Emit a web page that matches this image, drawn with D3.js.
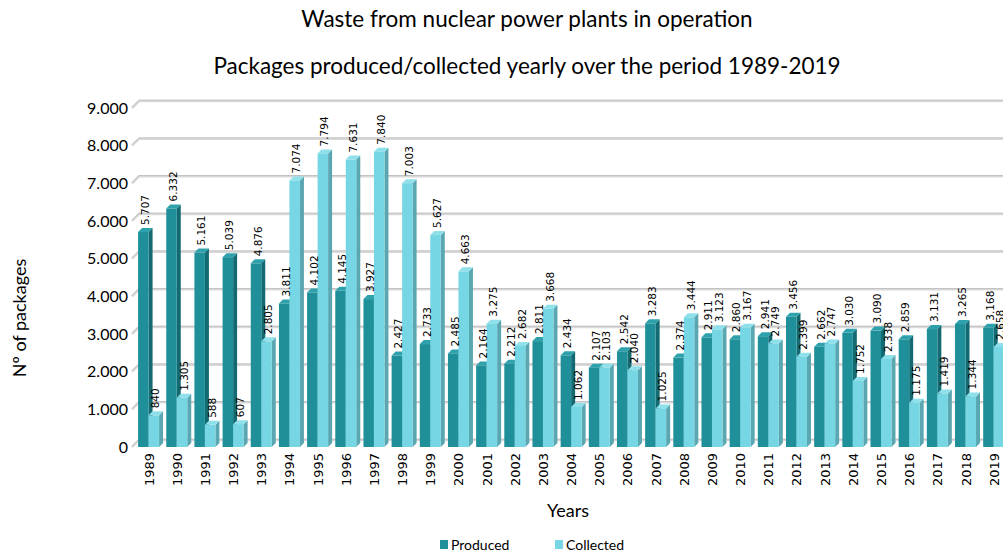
<!DOCTYPE html>
<html><head><meta charset="utf-8">
<script src="https://cdn.jsdelivr.net/npm/d3@7"></script>
<style>
html,body{margin:0;padding:0;background:#fff;overflow:hidden}
svg{display:block}
</style></head>
<body>
<svg id="chart" width="1003" height="554"></svg>
<script>
const years = ["1989","1990","1991","1992","1993","1994","1995","1996","1997","1998","1999","2000","2001","2002","2003","2004","2005","2006","2007","2008","2009","2010","2011","2012","2013","2014","2015","2016","2017","2018","2019"];
const produced = [5707,6332,5161,5039,4876,3811,4102,4145,3927,2427,2733,2485,2164,2212,2811,2434,2107,2542,3283,2374,2911,2860,2941,3456,2662,3030,3090,2859,3131,3265,3168];
const collected = [840,1305,588,607,2805,7074,7794,7631,7840,7003,5627,4663,3275,2682,3668,1062,2103,2040,1025,3444,3123,3167,2749,2399,2747,1752,2338,1175,1419,1344,2658];
const yTicks = [0,1000,2000,3000,4000,5000,6000,7000,8000,9000];
const seriesNames = ["Produced","Collected"];

const loc = d3.formatLocale({decimal:",", thousands:".", grouping:[3], currency:["",""]});
const fmt = loc.format(",d");

const svg = d3.select("#chart");
const W = 1003, H = 554;
const FONT_T = "Lato, 'Open Sans', sans-serif";
const FONT_D = "'DejaVu Sans', Verdana, sans-serif";

const y = d3.scaleLinear().domain([0,9000]).range([447,108]);
const x = d3.scaleBand().domain(years).range([134.5, 134.5 + 31*28.17]).padding(0);
const bw = x.bandwidth();
const DX = 4, DY = 4;          // bar depth
const WDX = 7, WDY = 7;        // wall depth

const colors = {
  Produced: {front:"#1f9099", side:"#146a72", top:"#2ea2ac"},
  Collected:{front:"#77d6e3", side:"#5aa7b1", top:"#8ee0eb"}
};

// Titles
svg.append("text").attr("x",527).attr("y",27).attr("text-anchor","middle")
  .attr("font-family",FONT_T).attr("font-size",22.5).attr("fill","#000")
  .text("Waste from nuclear power plants in operation");
svg.append("text").attr("x",527).attr("y",74).attr("text-anchor","middle")
  .attr("font-family",FONT_T).attr("font-size",22.5).attr("fill","#000")
  .text("Packages produced/collected yearly over the period 1989-2019");

// gridlines (back wall) with slanted side-wall segment
const grid = svg.append("g");
yTicks.forEach(t => {
  const yf = y(t), yb = yf - WDY;
  const x0 = 132, xb = x0 + WDX;
  grid.append("path").attr("d",`M${x0},${yf}L${xb},${yb}L${W+5},${yb}`)
    .attr("fill","none").attr("stroke","#d9d9d9").attr("stroke-width",2.5);
  grid.append("path").attr("d",`M${x0},${yf-0.8}L${xb},${yb-0.8}L${W+5},${yb-0.8}`)
    .attr("fill","none").attr("stroke","#bdbdbd").attr("stroke-width",0.8);
});

// y axis labels
svg.append("g").selectAll("text").data(yTicks).join("text")
  .attr("x",128).attr("y",d=>y(d)).attr("dy","0.35em").attr("text-anchor","end")
  .attr("font-family",FONT_T).attr("font-size",16).attr("fill","#000")
  .text(d=>fmt(d));

svg.append("text").attr("transform","translate(26,318) rotate(-90)")
  .attr("text-anchor","middle").attr("font-family",FONT_T).attr("font-size",18).attr("fill","#000")
  .text("Nº of packages");

// bars
function bar3d(g, x0, w, v, c){
  const yt = y(v), yb = y(0);
  g.append("path").attr("d",`M${x0+w},${yb}L${x0+w+DX},${yb-DY}L${x0+w+DX},${yt-DY}L${x0+w},${yt}Z`).attr("fill",c.side);
  g.append("path").attr("d",`M${x0},${yt}L${x0+DX},${yt-DY}L${x0+w+DX},${yt-DY}L${x0+w},${yt}Z`).attr("fill",c.top);
  g.append("rect").attr("x",x0).attr("y",yt).attr("width",w).attr("height",yb-yt).attr("fill",c.front);
}
const bars = svg.append("g");
const labels = svg.append("g");
years.forEach((yr,i) => {
  const cx = x(yr) + bw/2;
  const data = [[produced[i], colors.Produced, cx-10.5], [collected[i], colors.Collected, cx]];
  data.forEach(([v,c,x0]) => {
    bar3d(bars, x0, 10.5, v, c);
    labels.append("text")
      .attr("transform",`translate(${x0+5.25+DX/2+3.5},${y(v)-DY-3}) rotate(-90)`)
      .attr("text-anchor","start").attr("font-family",FONT_D).attr("font-size",10.5).attr("fill","#000")
      .text(fmt(v));
  });
});

// x tick labels
svg.append("g").selectAll("text").data(years).join("text")
  .attr("transform",d=>`translate(${x(d)+bw/2+5},453) rotate(-90)`)
  .attr("text-anchor","end").attr("font-family",FONT_D).attr("font-size",13).attr("fill","#000")
  .text(d=>d);

svg.append("text").attr("x",568).attr("y",517).attr("text-anchor","middle")
  .attr("font-family",FONT_T).attr("font-size",18).attr("fill","#000").text("Years");

// legend
const lg = svg.append("g");
const legX = [440, 555];
seriesNames.forEach((n,i) => {
  lg.append("rect").attr("x",legX[i]).attr("y",540).attr("width",8).attr("height",9).attr("fill",colors[n].front);
  lg.append("text").attr("x",legX[i]+11).attr("y",549.5).attr("font-family",FONT_T).attr("font-size",14).attr("fill","#000").text(n);
});
</script>
</body></html>
